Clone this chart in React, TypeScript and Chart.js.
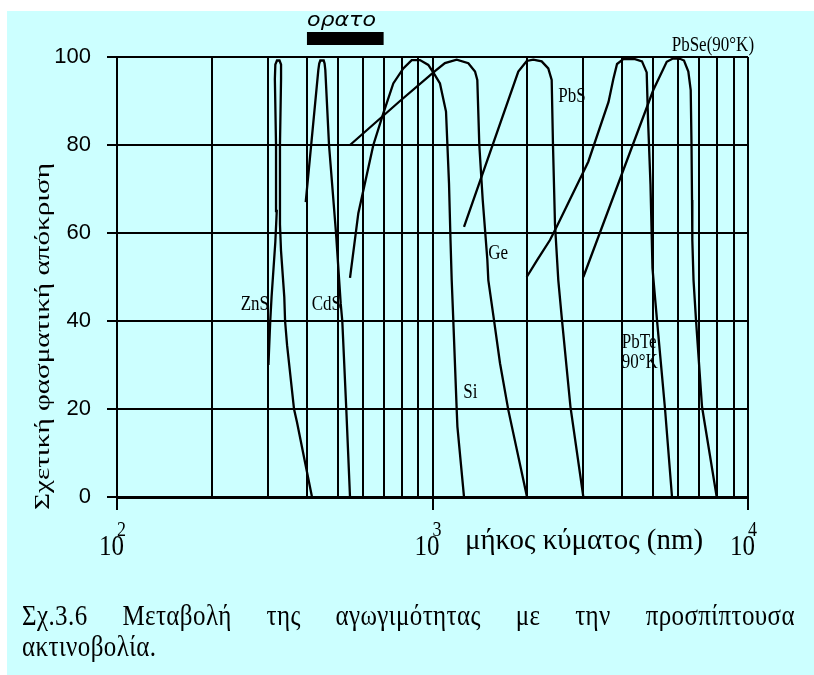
import { useEffect, useRef } from 'react';
import { Chart, registerables } from 'chart.js';

Chart.register(...registerables);

// Relative spectral response (%) of photoconductive materials vs wavelength (nm)
const ZNS_NM = [302, 306, 309, 317.6, 320.9, 319.2, 316.5, 317.6, 321.4, 327.4, 331.1, 331.1, 328.5, 328.5, 331, 339, 341, 346, 364, 372, 415];
const ZNS_RESP = [30, 40, 45.5, 58, 65, 80, 95, 98.3, 99.2, 99.2, 98.3, 95, 80, 62, 56, 45.5, 40, 34.5, 20, 17, 0];

const CDS_NM = [396.4, 434.6, 437.5, 441, 452, 455, 457.4, 469.9, 494.5, 511.7, 517.7, 533, 547.7];
const CDS_RESP = [67, 97, 98.5, 99.2, 99.2, 98.5, 97, 80, 60, 44, 40, 20, 0];

const SI_NM = [547.7, 582, 649.3, 698.3, 751.2, 808.1, 859.2, 912.7, 970, 1018, 1056, 1103.6, 1128, 1140.4, 1150.4, 1163.9, 1193.2, 1199.3, 1258.6];
const SI_RESP = [49.8, 64.5, 80, 87.2, 94, 97.4, 99.3, 99.3, 98.2, 95.9, 94, 87.6, 71.3, 58.4, 49.3, 40.2, 19.8, 16, 0];

const GE_NM = [547.7, 788.8, 1018, 1095, 1193.2, 1298.9, 1364, 1386.8, 1407.2, 1442.7, 1491.9, 1502.8, 1566.6, 1636.8, 1738.7, 1993.4];
const GE_RESP = [80, 90, 96.8, 98.6, 99.4, 98.6, 96.7, 94.8, 80, 67.5, 54, 49.3, 40.2, 30.4, 19.8, 0];

const PBS_NM = [1258.6, 1870.4, 1989, 2086.9, 2218.5, 2328, 2386.5, 2409.3, 2444.7, 2504.3, 2573, 2737, 3006.7];
const PBS_RESP = [61.4, 96.7, 99.1, 99.4, 99, 97.4, 94.8, 80, 62, 49.3, 40.2, 20.5, 0];

const PBTE_NM = [1989, 2148.3, 2357.1, 2475.2, 2993.4, 3117.3, 3613.7, 3742.6, 3845, 4025.9, 4384.7, 4613.2, 4774.2, 4819.7, 4908.5, 4980.6, 5017.2, 5147, 5458, 5743.1];
const PBTE_RESP = [50, 53.9, 58.4, 61.4, 73.6, 76.2, 89.8, 95, 98.4, 99.5, 99.5, 99, 96.5, 86, 71, 52, 49.3, 40.2, 20, 0];

const PBSE_NM = [3006.7, 5009.9, 5526.2, 5797.8, 6087.9, 6268.5, 6469.7, 6583.2, 6621.8, 6646.1, 6660.6, 6719.3, 6842.8, 7148.9, 7958.3];
const PBSE_RESP = [50, 92.5, 98.9, 99.7, 99.6, 99.2, 96.7, 92.5, 80, 67.5, 58.4, 49.3, 40.2, 20.5, 0];

// Visible band marker (nm) drawn just above the plot
const VISIBLE_NM = [400, 700];
const VISIBLE_LEVEL = 104.2;

// Vertical grid at every 1..9 x 10^n
const GRID_NM = [100, 200, 300, 400, 500, 600, 700, 800, 900, 1000, 2000, 3000, 4000, 5000, 6000, 7000, 8000, 9000, 10000];
const DECADES = [100, 1000, 10000];

// Curve name tags, anchored in data coordinates (left edge, baseline)
const CURVE_TAGS = [
  { text: 'ZnS', nm: 246.6, resp: 42.5 },
  { text: 'CdS', nm: 414.2, resp: 42.5 },
  { text: 'Si', nm: 1252, resp: 22.4 },
  { text: 'Ge', nm: 1503, resp: 54.1 },
  { text: 'PbS', nm: 2504, resp: 89.7 },
  { text: 'PbTe', nm: 3979, resp: 33.8 },
  { text: '90°K', nm: 3979, resp: 29.3 },
  { text: 'PbSe(90°K)', nm: 5730, resp: 101.4 },
];

const SERIF = '"Liberation Serif", "Times New Roman", serif';
const STRETCH_Y = 1.2;

const pts = (xs: number[], ys: number[]) => xs.map((x, i) => ({ x, y: ys[i] }));

function drawText(
  ctx: CanvasRenderingContext2D,
  text: string,
  x: number,
  y: number,
  font: string,
  align: CanvasTextAlign,
  sy: number,
  fitWidth?: number,
) {
  ctx.save();
  ctx.font = font;
  ctx.textAlign = align;
  ctx.textBaseline = 'alphabetic';
  ctx.fillStyle = '#000';
  const sx = fitWidth ? fitWidth / ctx.measureText(text).width : 1;
  ctx.translate(x, y);
  ctx.scale(sx, sy);
  ctx.fillText(text, 0, 0);
  ctx.restore();
}

const textPlugin = {
  id: 'figureText',
  afterDraw(chart: any) {
    const ctx: CanvasRenderingContext2D = chart.ctx;
    const xs = chart.scales.x;
    const ys = chart.scales.y;

    // decade labels 10^n
    DECADES.forEach((v) => {
      const px = xs.getPixelForValue(v);
      drawText(ctx, '10', px - 5.5, 555, `25px ${SERIF}`, 'center', STRETCH_Y);
      drawText(ctx, String(Math.round(Math.log10(v))), px, 536, `18px ${SERIF}`, 'left', STRETCH_Y);
    });

    // axis titles
    drawText(ctx, 'μήκος κύματος (nm)', 465, 549, `24px ${SERIF}`, 'left', 1.25, 238);
    ctx.save();
    ctx.translate(49.3, 336.5);
    ctx.rotate(-Math.PI / 2);
    ctx.font = `22px ${SERIF}`;
    ctx.textAlign = 'center';
    ctx.textBaseline = 'alphabetic';
    ctx.fillStyle = '#000';
    const t = 'Σχετική φασματική απόκριση';
    ctx.scale(347 / ctx.measureText(t).width, 1);
    ctx.fillText(t, 0, 0);
    ctx.restore();

    // visible band caption
    const vx = xs.getPixelForValue(VISIBLE_NM[0]);
    drawText(ctx, 'ορατο', vx, 25.7, 'italic 16px "DejaVu Sans"', 'left', STRETCH_Y, 69);

    // curve names
    CURVE_TAGS.forEach((tag) => {
      drawText(ctx, tag.text, xs.getPixelForValue(tag.nm), ys.getPixelForValue(tag.resp), `17px ${SERIF}`, 'left', STRETCH_Y);
    });
  },
};

const curve = (label: string, xs: number[], ys: number[]) => ({
  label,
  data: pts(xs, ys),
  showLine: true,
  borderColor: '#000',
  borderWidth: 2.3,
  pointRadius: 0,
  tension: 0,
  fill: false,
});

export default function App() {
  const ref = useRef<HTMLCanvasElement>(null);

  useEffect(() => {
    const chart = new Chart(ref.current!, {
      type: 'scatter',
      data: {
        datasets: [
          curve('ZnS', ZNS_NM, ZNS_RESP),
          curve('CdS', CDS_NM, CDS_RESP),
          curve('Si', SI_NM, SI_RESP),
          curve('Ge', GE_NM, GE_RESP),
          curve('PbS', PBS_NM, PBS_RESP),
          curve('PbTe', PBTE_NM, PBTE_RESP),
          curve('PbSe', PBSE_NM, PBSE_RESP),
          {
            label: 'ορατο',
            data: VISIBLE_NM.map((x) => ({ x, y: VISIBLE_LEVEL })),
            showLine: true,
            borderColor: '#000',
            borderWidth: 13,
            borderCapStyle: 'butt',
            pointRadius: 0,
            clip: false,
          } as any,
        ],
      },
      options: {
        responsive: false,
        devicePixelRatio: 1,
        animation: false,
        events: [],
        layout: { padding: { left: 0, top: 57, right: 66, bottom: 165 } },
        plugins: { legend: { display: false }, tooltip: { enabled: false }, title: { display: false } },
        scales: {
          x: {
            type: 'logarithmic',
            min: 100,
            max: 10000,
            afterBuildTicks: (scale: any) => {
              scale.ticks = GRID_NM.map((value) => ({ value, major: DECADES.includes(value) }));
            },
            afterFit: (scale: any) => {
              scale.height = 13;
            },
            ticks: { display: false },
            grid: {
              color: '#000',
              lineWidth: 2,
              tickLength: 13,
              tickWidth: 2,
              tickColor: (c: any) => (c.tick && DECADES.includes(c.tick.value) ? '#000' : 'rgba(0,0,0,0)'),
            },
            border: { color: '#000', width: 3 },
          },
          y: {
            min: 0,
            max: 100,
            afterFit: (scale: any) => {
              scale.width = 117;
            },
            ticks: {
              stepSize: 20,
              color: '#000',
              padding: 16,
              font: { family: '"Liberation Sans", Arial, sans-serif', size: 22 },
            },
            grid: { color: '#000', lineWidth: 2, tickLength: 10, tickWidth: 2 },
            border: { color: '#000', width: 2 },
          },
        },
      },
      plugins: [textPlugin],
    } as any);
    return () => chart.destroy();
  }, []);

  const captionStyle: React.CSSProperties = {
    position: 'absolute',
    left: 22,
    width: 773,
    fontFamily: '"Liberation Serif", "Times New Roman", serif',
    fontSize: 25,
    letterSpacing: '0.4px',
    lineHeight: '25px',
    color: '#000',
    transform: 'scaleY(1.22)',
    transformOrigin: 'left top',
    margin: 0,
  };

  return (
    <div style={{ position: 'fixed', left: 0, top: 0, width: 814, height: 675, background: '#fff', overflow: 'hidden' }}>
      <div style={{ position: 'absolute', left: 7, top: 11, right: 0, bottom: 0, background: '#CCFFFF' }} />
      <canvas
        ref={ref}
        width={814}
        height={675}
        style={{ position: 'absolute', left: 0, top: 0, width: 814, height: 675 }}
      />
      <div style={{ ...captionStyle, top: 599, textAlign: 'justify', textAlignLast: 'justify' }}>
        Σχ.3.6 Μεταβολή της αγωγιμότητας με την προσπίπτουσα
      </div>
      <div style={{ ...captionStyle, top: 630, textAlign: 'left' }}>ακτινοβολία.</div>
    </div>
  );
}
